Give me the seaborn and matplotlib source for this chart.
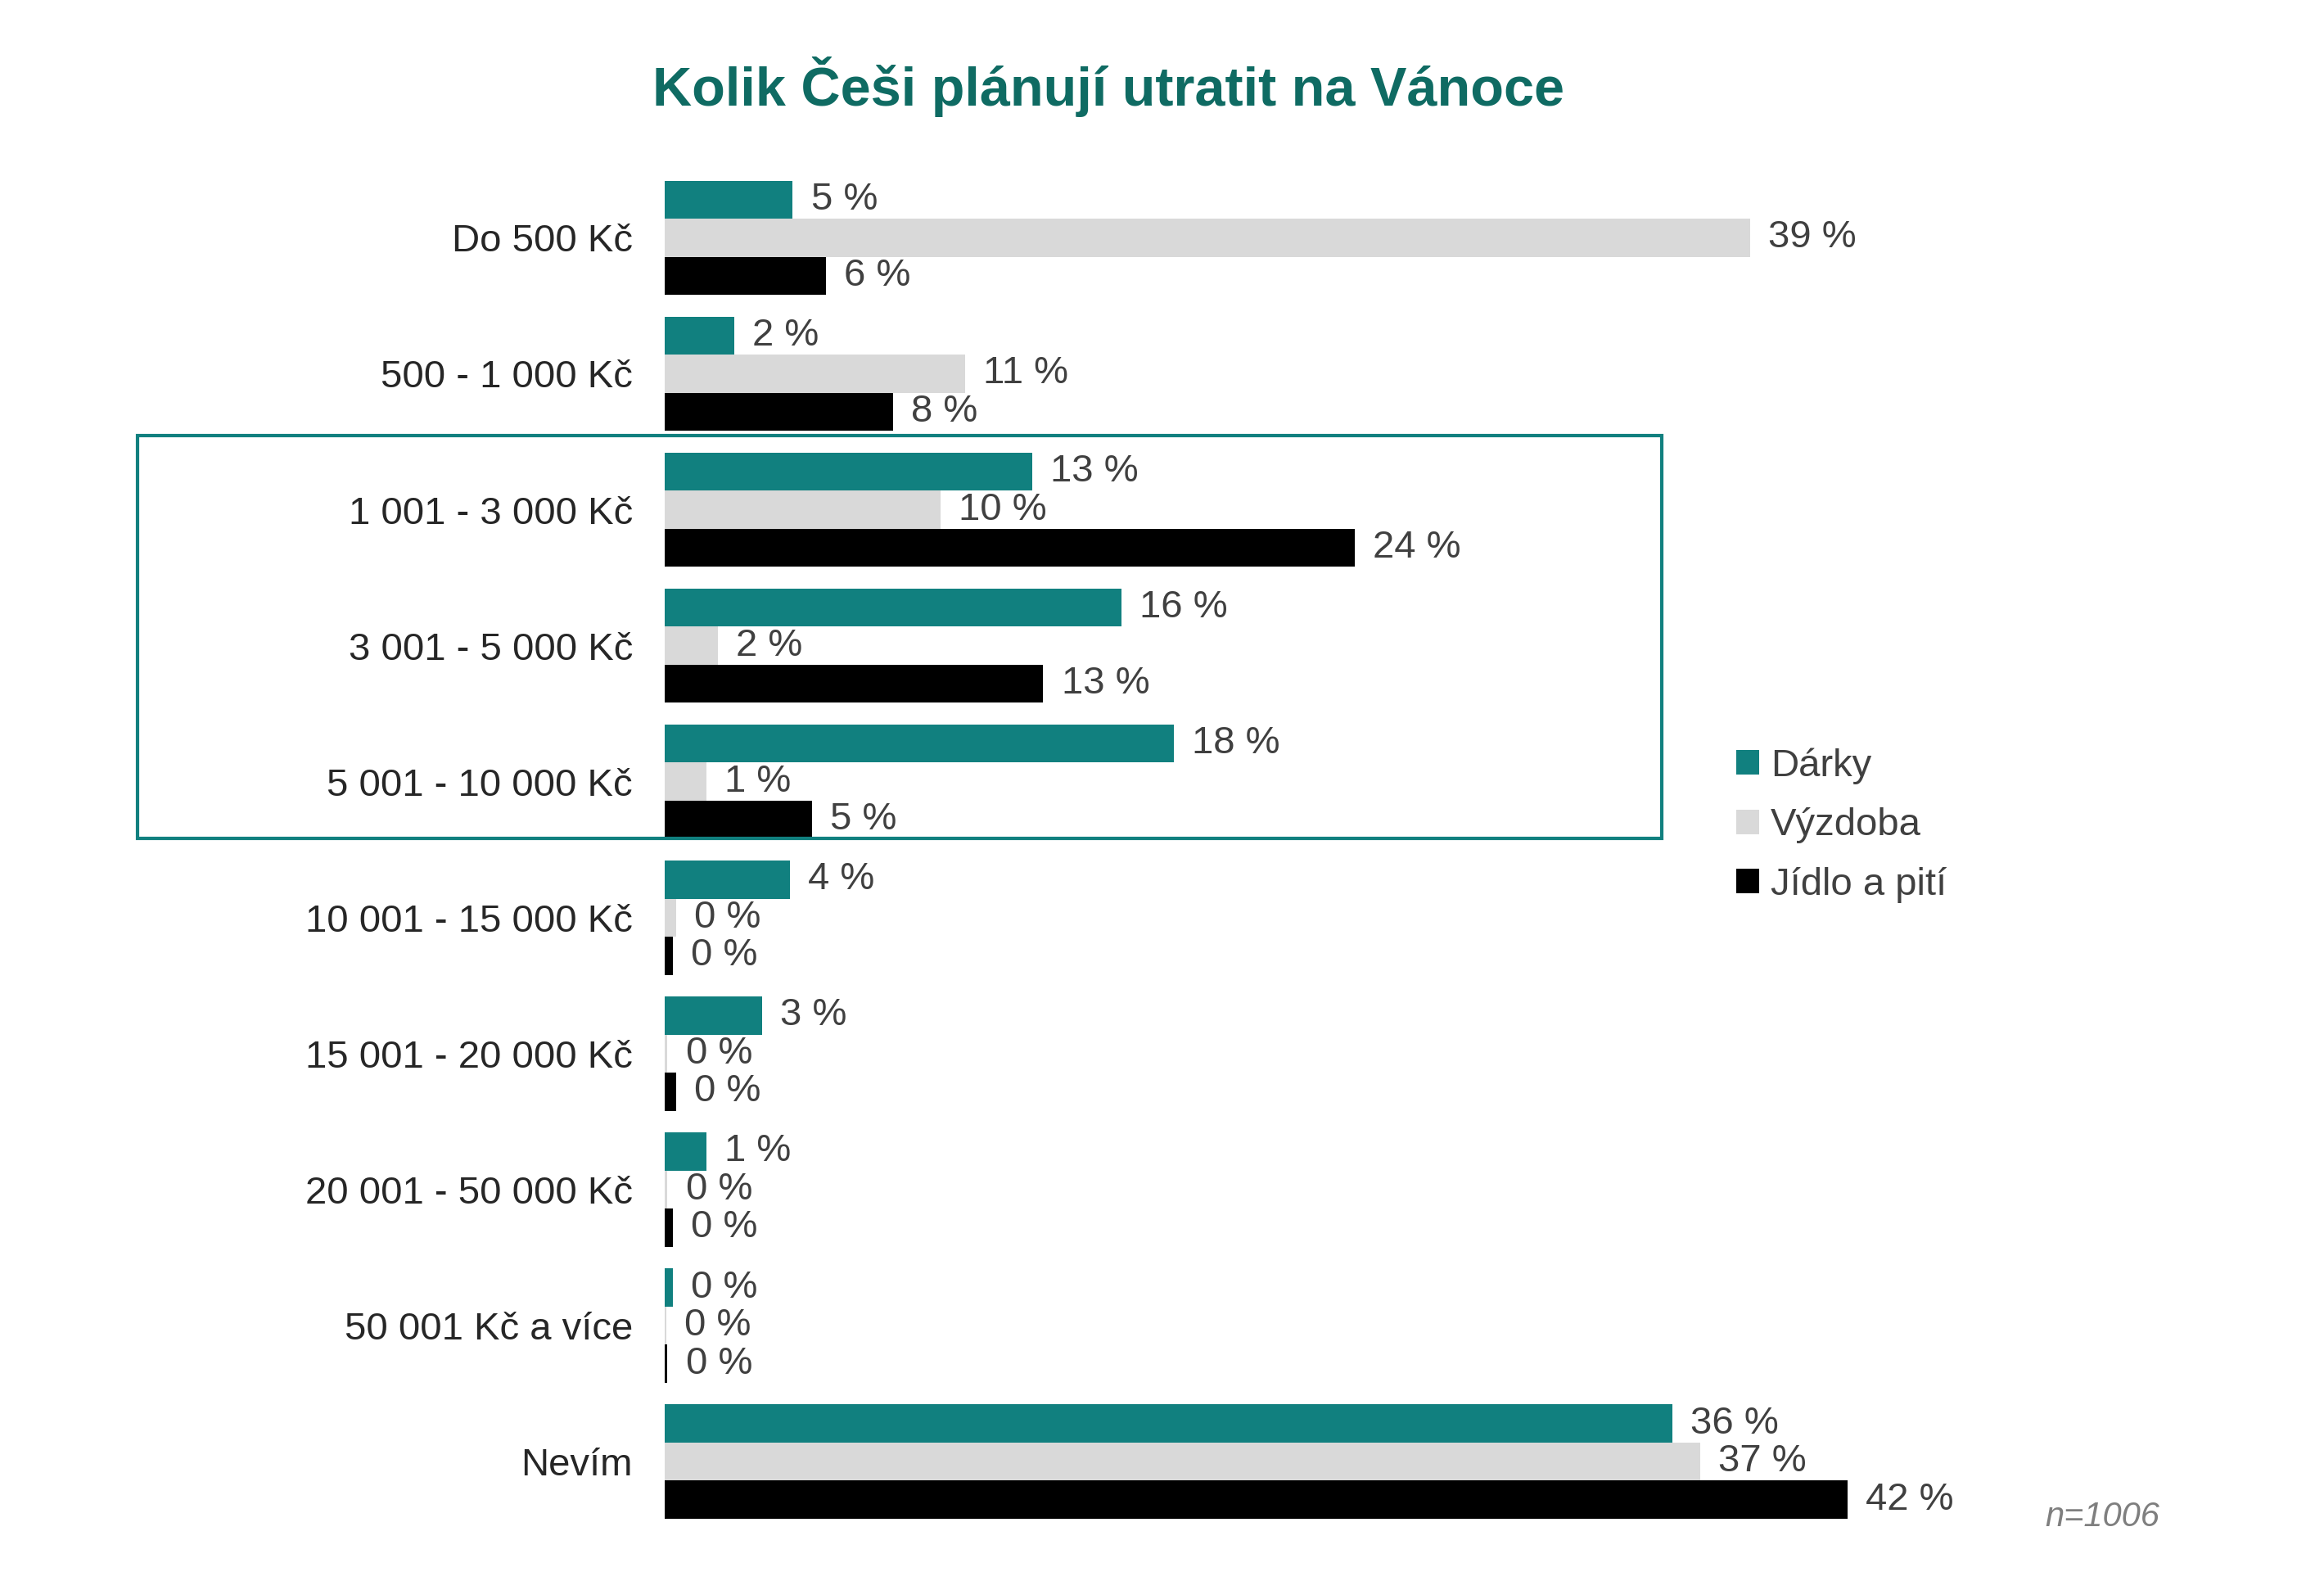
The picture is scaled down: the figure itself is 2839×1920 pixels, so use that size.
import matplotlib
matplotlib.use("Agg")
import matplotlib.pyplot as plt
import seaborn as sns
import pandas as pd
from matplotlib.patches import Rectangle

categories = ["Do 500 Kč", "500 - 1 000 Kč", "1 001 - 3 000 Kč", "3 001 - 5 000 Kč",
              "5 001 - 10 000 Kč", "10 001 - 15 000 Kč", "15 001 - 20 000 Kč",
              "20 001 - 50 000 Kč", "50 001 Kč a více", "Nevím"]
series = ["Dárky", "Výzdoba", "Jídlo a pití"]
darky = [4.6, 2.5, 13.2, 16.4, 18.3, 4.5, 3.5, 1.5, 0.3, 36.2]
vyzdoba = [39.0, 10.8, 9.9, 1.9, 1.5, 0.4, 0.1, 0.1, 0.05, 37.2]
jidlo = [5.8, 8.2, 24.8, 13.6, 5.3, 0.3, 0.4, 0.3, 0.1, 42.5]
lab_darky = [5, 2, 13, 16, 18, 4, 3, 1, 0, 36]
lab_vyzdoba = [39, 11, 10, 2, 1, 0, 0, 0, 0, 37]
lab_jidlo = [6, 8, 24, 13, 5, 0, 0, 0, 0, 42]
colors = ["#11807f", "#d9d9d9", "#000000"]

rows = []
for s, vals, labs in zip(series, [darky, vyzdoba, jidlo], [lab_darky, lab_vyzdoba, lab_jidlo]):
    for c, v, l in zip(categories, vals, labs):
        rows.append({"cat": c, "series": s, "value": v, "label": l})
df = pd.DataFrame(rows)

sns.set_style("white")
plt.rcParams['font.family'] = ['Liberation Sans', 'DejaVu Sans']
fig = plt.figure(figsize=(14.195, 9.6), dpi=200)
ax = fig.add_axes([0.286, 0.027, 0.539, 0.865])
sns.barplot(data=df, y="cat", x="value", hue="series", order=categories,
            hue_order=series, palette=colors, orient="h", width=0.84, ax=ax,
            saturation=1, legend=True, linewidth=0)
ax.set_xlim(0, 45)
for cont, s in zip(ax.containers, series):
    labs = df[df.series == s]["label"].tolist()
    ax.bar_label(cont, labels=[f"{l} %" for l in labs], padding=8,
                 fontsize=17, color="#404040")
ax.set_xlabel(""); ax.set_ylabel("")
ax.set_xticks([])
ax.tick_params(axis="y", length=0, labelsize=17, pad=14)
for sp in ax.spines.values():
    sp.set_visible(False)
leg = ax.legend(loc="center left", frameon=False, fontsize=17, handlelength=0.6,
                handleheight=0.6, handletextpad=0.3, labelspacing=0.6)
for t in leg.get_texts():
    t.set_color("#404040")
leg.set_bbox_to_anchor((0.732, 0.475), transform=fig.transFigure)
fig.text(0.477, 0.945, "Kolik Češi plánují utratit na Vánoce", ha="center", va="center",
         fontsize=24, fontweight="bold", color="#0f6b63")
fig.text(0.88, 0.035, "n=1006", ha="left", va="center", fontsize=15,
         style="italic", color="#7f7f7f")
fig.add_artist(Rectangle((0.059, 1 - 560/1050), (1109 - 92)/1550, (560 - 291)/1050,
                         transform=fig.transFigure, fill=False, edgecolor="#11807f",
                         linewidth=1.5))
fig.savefig("out.png", dpi=200, facecolor="white")
